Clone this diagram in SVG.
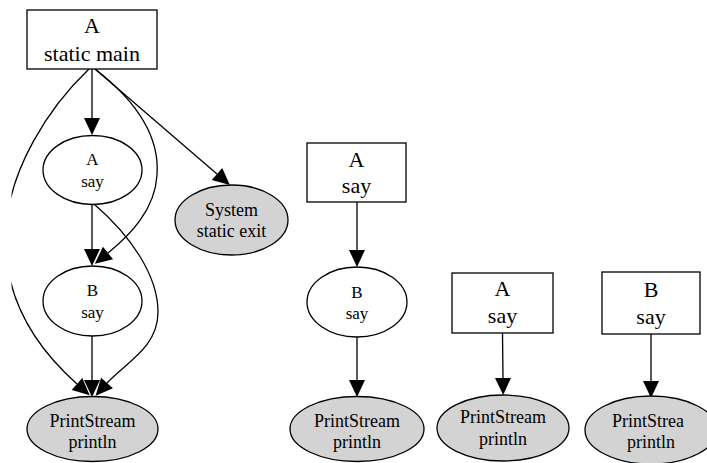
<svg xmlns="http://www.w3.org/2000/svg" width="707" height="463" viewBox="0 0 707 463">
<style>
.box{fill:#ffffff;stroke:#000;stroke-width:1.3}
.ell{fill:#ffffff;stroke:#000;stroke-width:1.3}
.grey{fill:#d3d3d3;stroke:#000;stroke-width:1.3}
.edge{fill:none;stroke:#000;stroke-width:1.3;marker-end:url(#ah)}
text{font-family:"Liberation Serif","Times New Roman",serif;text-anchor:middle;fill:#000}
.big{font-size:22px}
.med{font-size:17px}
.gl{font-size:18px}
</style>
<defs>
<marker id="ah" markerUnits="userSpaceOnUse" markerWidth="17" markerHeight="16" viewBox="0 0 17 16" refX="0" refY="8" orient="auto" overflow="visible">
<path d="M0,0 L17,8 L0,16 z" fill="#000"/>
</marker>
<clipPath id="clipL"><rect x="11.5" y="0" width="700" height="463"/></clipPath>
</defs>
<rect width="707" height="463" fill="#ffffff"/>
<g id="connectors">
<path class="edge" d="M92,69 L92,118"/>
<path class="edge" d="M95,69 L217,174"/>
<path class="edge" d="M95,69 C135,100 160,135 157,175 C155,210 130,235 108,253"/>
<path class="edge" d="M92,204 L92,249"/>
<path class="edge" d="M94,204 C130,235 158,275 158,312 C158,348 125,363 107,383"/>
<path class="edge" d="M92,336 L92,380"/>
<path class="edge" clip-path="url(#clipL)" d="M89,69 C50,106 7,170 5.5,236 C4,303 41,352 77,384"/>
<path class="edge" d="M357,202 L357,250"/>
<path class="edge" d="M357,337 L357,380"/>
<path class="edge" d="M502.5,333 L503,378"/>
<path class="edge" d="M651,334 L651,381"/>
</g>
<g id="main">
<rect class="box" x="27" y="10" width="130" height="59"/>
<text class="big" x="92" y="33">A</text>
<text class="big" x="92" y="61">static main</text>
</g>
<g id="asay1">
<ellipse class="ell" cx="92.5" cy="170" rx="49.5" ry="34.5"/>
<text class="med" x="92.5" y="165">A</text>
<text class="med" x="92.5" y="187">say</text>
</g>
<g id="system">
<ellipse class="grey" cx="231.5" cy="220" rx="56.5" ry="35"/>
<text class="gl" x="231.5" y="216">System</text>
<text class="gl" x="231.5" y="237">static exit</text>
</g>
<g id="bsay1">
<ellipse class="ell" cx="92.5" cy="301" rx="49.5" ry="35"/>
<text class="med" x="92.5" y="296">B</text>
<text class="med" x="92.5" y="318">say</text>
</g>
<g id="print1">
<ellipse class="grey" cx="92.5" cy="429" rx="65.5" ry="32.5"/>
<text class="gl" x="92.5" y="427">PrintStream</text>
<text class="gl" x="92.5" y="448">println</text>
</g>
<g id="asay2">
<rect class="box" x="307" y="143" width="99" height="59"/>
<text class="big" x="356.5" y="167">A</text>
<text class="big" x="356.5" y="193">say</text>
</g>
<g id="bsay2">
<ellipse class="ell" cx="357" cy="302" rx="50" ry="35"/>
<text class="med" x="357" y="298">B</text>
<text class="med" x="357" y="319">say</text>
</g>
<g id="print2">
<ellipse class="grey" cx="357" cy="429" rx="67" ry="32.5"/>
<text class="gl" x="357" y="427">PrintStream</text>
<text class="gl" x="357" y="448">println</text>
</g>
<g id="asay3">
<rect class="box" x="452" y="273" width="101" height="60"/>
<text class="big" x="502.5" y="296">A</text>
<text class="big" x="502.5" y="323">say</text>
</g>
<g id="print3">
<ellipse class="grey" cx="503" cy="428" rx="66" ry="33"/>
<text class="gl" x="503" y="423">PrintStream</text>
<text class="gl" x="503" y="445">println</text>
</g>
<g id="bsay3">
<rect class="box" x="602" y="272" width="98" height="62"/>
<text class="big" x="651" y="297">B</text>
<text class="big" x="651" y="324">say</text>
</g>
<g id="print4">
<ellipse class="grey" cx="651" cy="430" rx="66" ry="34"/>
<text class="gl" x="648" y="427">PrintStrea</text>
<text class="gl" x="651" y="448">println</text>
</g>
</svg>
